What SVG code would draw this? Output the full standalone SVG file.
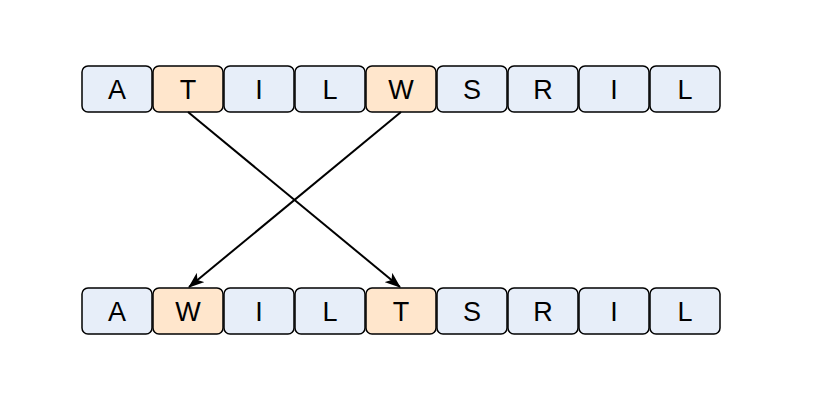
<svg xmlns="http://www.w3.org/2000/svg" width="830" height="411" viewBox="0 0 830 411">
<defs>
<style>
.b rect{stroke:#000;stroke-width:1.5}
.blue rect{fill:#e7eef9}
.orng rect{fill:#ffe6cc}
text{font-family:"Liberation Sans",Arial,sans-serif;font-size:27px;fill:#000;text-anchor:middle}
.c{stroke:#000;stroke-width:2;fill:none}
</style>
<marker id="a" viewBox="0 0 16 12" refX="15" refY="6" markerWidth="16" markerHeight="12" markerUnits="userSpaceOnUse" orient="auto">
<path d="M0,0 L16,6 L0,12 L4,6 Z" fill="#000"/>
</marker>
</defs>
<rect width="830" height="411" fill="#fff"/>
<g id="top">
<g id="t1" class="b blue"><rect x="82" y="66" width="70" height="46" rx="6"/><text x="117" y="99">A</text></g>
<g id="t2" class="b orng"><rect x="153" y="66" width="70" height="46" rx="6"/><text x="188" y="99">T</text></g>
<g id="t3" class="b blue"><rect x="224" y="66" width="70" height="46" rx="6"/><text x="259" y="99">I</text></g>
<g id="t4" class="b blue"><rect x="295" y="66" width="70" height="46" rx="6"/><text x="330" y="99">L</text></g>
<g id="t5" class="b orng"><rect x="366" y="66" width="70" height="46" rx="6"/><text x="401" y="99">W</text></g>
<g id="t6" class="b blue"><rect x="437" y="66" width="70" height="46" rx="6"/><text x="472" y="99">S</text></g>
<g id="t7" class="b blue"><rect x="508" y="66" width="70" height="46" rx="6"/><text x="543" y="99">R</text></g>
<g id="t8" class="b blue"><rect x="579" y="66" width="70" height="46" rx="6"/><text x="614" y="99">I</text></g>
<g id="t9" class="b blue"><rect x="650" y="66" width="70" height="46" rx="6"/><text x="685" y="99">L</text></g>
</g>
<g id="bottom">
<g id="b1" class="b blue"><rect x="82" y="288" width="70" height="46" rx="6"/><text x="117" y="321">A</text></g>
<g id="b2" class="b orng"><rect x="153" y="288" width="70" height="46" rx="6"/><text x="188" y="321">W</text></g>
<g id="b3" class="b blue"><rect x="224" y="288" width="70" height="46" rx="6"/><text x="259" y="321">I</text></g>
<g id="b4" class="b blue"><rect x="295" y="288" width="70" height="46" rx="6"/><text x="330" y="321">L</text></g>
<g id="b5" class="b orng"><rect x="366" y="288" width="70" height="46" rx="6"/><text x="401" y="321">T</text></g>
<g id="b6" class="b blue"><rect x="437" y="288" width="70" height="46" rx="6"/><text x="472" y="321">S</text></g>
<g id="b7" class="b blue"><rect x="508" y="288" width="70" height="46" rx="6"/><text x="543" y="321">R</text></g>
<g id="b8" class="b blue"><rect x="579" y="288" width="70" height="46" rx="6"/><text x="614" y="321">I</text></g>
<g id="b9" class="b blue"><rect x="650" y="288" width="70" height="46" rx="6"/><text x="685" y="321">L</text></g>
</g>
<g id="connectors">
<line class="c" x1="188" y1="112" x2="400" y2="287" marker-end="url(#a)"/>
<line class="c" x1="401" y1="112" x2="189" y2="287" marker-end="url(#a)"/>
</g>
</svg>
